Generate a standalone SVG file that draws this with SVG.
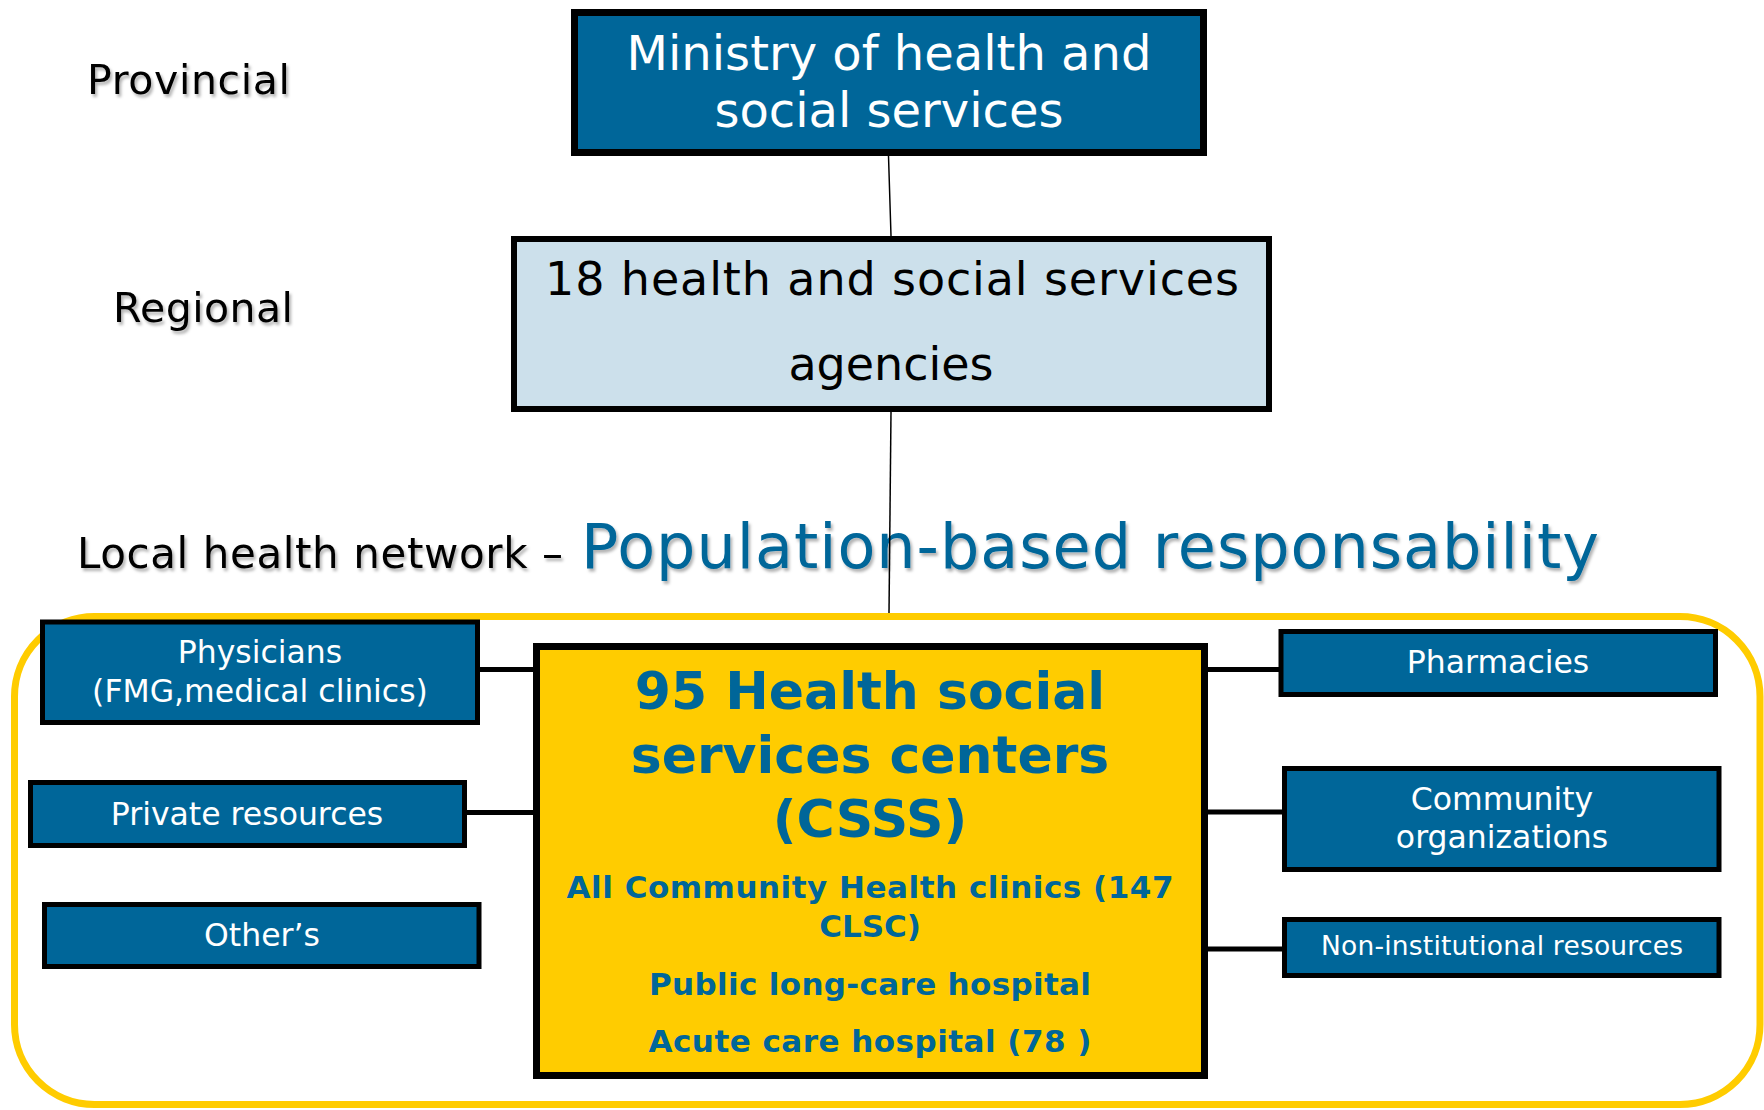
<svg xmlns="http://www.w3.org/2000/svg" width="1764" height="1110" viewBox="0 0 1764 1110">
<defs>
<filter id="sh" x="-5%" y="-30%" width="110%" height="160%">
<feDropShadow dx="2" dy="3" stdDeviation="1.5" flood-color="#000" flood-opacity="0.3"/>
</filter>
</defs>
<style>
text { font-family: "DejaVu Sans", Verdana, sans-serif; }
.dark { fill: #006699; stroke: #000; stroke-width: 5; }
.wt { fill: #fff; font-size: 31.5px; text-anchor: middle; }
.lbl { fill: #000; }
.blue { fill: #006699; font-weight: bold; text-anchor: middle; }
.thin { stroke: #000; stroke-width: 1.5; fill: none; }
.thick { stroke: #000; stroke-width: 5; fill: none; }
</style>
<rect x="0" y="0" width="1764" height="1110" fill="#fff"/>

<g id="local-network-area">
<rect x="14.5" y="616.5" width="1745.5" height="488" rx="80" ry="80" fill="none" stroke="#FFCC00" stroke-width="7"/>
</g>

<g id="level-labels">
<text class="lbl" x="87" y="94" font-size="41" textLength="203" lengthAdjust="spacing" filter="url(#sh)">Provincial</text>
<text class="lbl" x="113" y="322" font-size="41" textLength="180" lengthAdjust="spacing" filter="url(#sh)">Regional</text>
<text class="lbl" x="77" y="568" font-size="42" textLength="486" lengthAdjust="spacing" filter="url(#sh)">Local health network –</text>
<text x="581" y="568" font-size="62" fill="#006699" textLength="1018" lengthAdjust="spacing" filter="url(#sh)">Population-based responsability</text>
</g>

<g id="connectors">
<line class="thin" x1="888.5" y1="156" x2="891" y2="236"/>
<line class="thin" x1="891" y1="412" x2="889" y2="613"/>
<line class="thick" x1="480" y1="669.5" x2="534" y2="669.5"/>
<line class="thick" x1="467" y1="812.5" x2="534" y2="812.5"/>
<line class="thick" x1="1207" y1="669.5" x2="1279" y2="669.5"/>
<line class="thick" x1="1207" y1="812" x2="1283" y2="812"/>
<line class="thick" x1="1207" y1="949" x2="1283" y2="949"/>
</g>

<g id="ministry">
<rect x="574.5" y="12.5" width="629" height="140" fill="#006699" stroke="#000" stroke-width="7"/>
<text x="889" y="70" font-size="48" fill="#fff" text-anchor="middle">Ministry of health and</text>
<text x="889" y="127" font-size="48" fill="#fff" text-anchor="middle">social services</text>
</g>

<g id="agencies">
<rect x="514" y="239" width="755" height="170" fill="#CCE0EB" stroke="#000" stroke-width="6"/>
<text x="545" y="295" font-size="46" fill="#000" textLength="694" lengthAdjust="spacing">18 health and social services</text>
<text x="891" y="380" font-size="46" fill="#000" text-anchor="middle">agencies</text>
</g>

<g id="csss">
<rect x="536.5" y="646.5" width="668" height="429" fill="#FFCC00" stroke="#000" stroke-width="7"/>
<text class="blue" x="870" y="709" font-size="52">95 Health social</text>
<text class="blue" x="870" y="773" font-size="52">services centers</text>
<text class="blue" x="870" y="837" font-size="52">(CSSS)</text>
<text class="blue" x="870" y="898" font-size="31" textLength="607" lengthAdjust="spacing">All Community Health clinics (147</text>
<text class="blue" x="870" y="937" font-size="31">CLSC)</text>
<text class="blue" x="870" y="995" font-size="31" textLength="442" lengthAdjust="spacing">Public long-care hospital</text>
<text class="blue" x="870" y="1052" font-size="31" textLength="443" lengthAdjust="spacing">Acute care hospital (78 )</text>
</g>

<g id="physicians">
<rect class="dark" x="42.5" y="622" width="435" height="100.5"/>
<text class="wt" x="260" y="662.5">Physicians</text>
<text class="wt" x="260" y="701.5">(FMG,medical clinics)</text>
</g>

<g id="private-resources">
<rect class="dark" x="30.5" y="782.5" width="434" height="63"/>
<text class="wt" x="247" y="825">Private resources</text>
</g>

<g id="others">
<rect class="dark" x="44.5" y="904.5" width="434.5" height="62"/>
<text class="wt" x="262" y="945.5">Other’s</text>
</g>

<g id="pharmacies">
<rect class="dark" x="1281" y="631.5" width="434.5" height="63"/>
<text class="wt" x="1498" y="673">Pharmacies</text>
</g>

<g id="community-organizations">
<rect class="dark" x="1284.5" y="768.5" width="434.5" height="101"/>
<text class="wt" x="1502" y="810">Community</text>
<text class="wt" x="1502" y="848">organizations</text>
</g>

<g id="non-institutional">
<rect class="dark" x="1284.5" y="919.5" width="434.5" height="56"/>
<text class="wt" x="1502" y="955" style="font-size:26.5px" textLength="362" lengthAdjust="spacing">Non-institutional resources</text>
</g>
</svg>
